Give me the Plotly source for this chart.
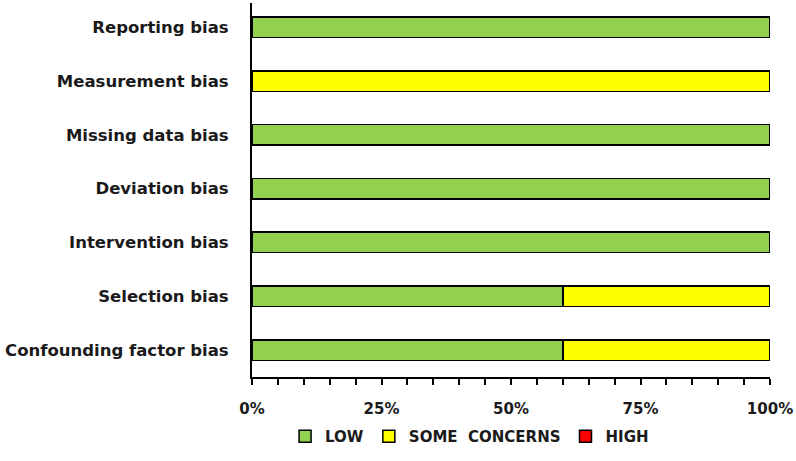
import plotly.graph_objects as go

categories = ["Confounding factor bias", "Selection bias", "Intervention bias",
              "Deviation bias", "Missing data bias", "Measurement bias", "Reporting bias"]
low = [60, 60, 100, 100, 100, 0, 100]
some_concerns = [40, 40, 0, 0, 0, 100, 0]
high = [0, 0, 0, 0, 0, 0, 0]
tick_vals = [0, 25, 50, 75, 100]
tick_text = ["0%", "25%", "50%", "75%", "100%"]

font_family = "DejaVu Sans, sans-serif"

fig = go.Figure()
for name, vals, col in [("LOW", low, "#92D050"),
                        ("SOME  CONCERNS", some_concerns, "#FFFF00"),
                        ("HIGH", high, "#FF0000")]:
    fig.add_trace(go.Bar(
        y=categories, x=vals, name=name, orientation="h",
        marker=dict(color=col, line=dict(color="black", width=1.5)),
        width=0.38,
    ))

fig.update_layout(
    barmode="stack",
    width=796, height=461,
    margin=dict(l=252, r=24, t=3, b=84),
    paper_bgcolor="white", plot_bgcolor="white",
    font=dict(family=font_family, size=15, color="#1a1a1a"),
    showlegend=True,
    legend=dict(orientation="h", x=0.42, xanchor="center", y=-0.115, yanchor="top",
                font=dict(size=15, family=font_family, weight="bold"),
                traceorder="normal", itemwidth=30),
)
fig.update_xaxes(
    range=[0, 100], tickvals=tick_vals, ticktext=tick_text,
    showgrid=False, zeroline=False,
    showline=True, linecolor="black", linewidth=2,
    ticks="outside", ticklen=6, tickwidth=2, tickcolor="black",
    minor=dict(dtick=5, ticks="outside", ticklen=6, tickwidth=2, tickcolor="black"),
    tickfont=dict(size=15, family=font_family, weight="bold"),
    ticklabelstandoff=11,
    fixedrange=True,
)
fig.update_yaxes(
    showgrid=False, zeroline=False,
    showline=True, linecolor="black", linewidth=2,
    ticks="", ticklabelstandoff=18,
    tickfont=dict(size=16.5, family=font_family, weight="bold"),
    range=[-0.5, 6.45],
    fixedrange=True,
)

fig.write_html("out.html", config={"displayModeBar": False},
               post_script="document.body.style.margin='0';document.body.style.overflow='hidden';")
